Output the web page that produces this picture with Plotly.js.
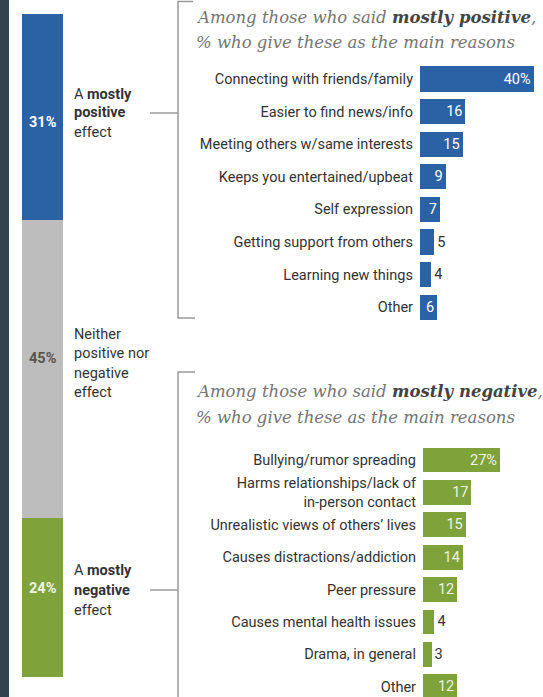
<!DOCTYPE html>
<html><head><meta charset="utf-8">
<script src="https://cdn.plot.ly/plotly-3.0.1.min.js"></script>
<style>html,body{margin:0;padding:0;background:#fff}#chart{width:543px;height:697px}</style>
</head><body><div id="chart"></div>
<script>
// ---- data ----
const overallLabels = ['A mostly positive effect', 'Neither positive nor negative effect', 'A mostly negative effect'];
const overallValues = [31, 45, 24];
const posReasons = ['Connecting with friends/family', 'Easier to find news/info', 'Meeting others w/same interests',
  'Keeps you entertained/upbeat', 'Self expression', 'Getting support from others', 'Learning new things', 'Other'];
const posValues = [40, 16, 15, 9, 7, 5, 4, 6];
const negReasons = ['Bullying/rumor spreading', 'Harms relationships/lack of<br>in-person contact',
  'Unrealistic views of others\u2019 lives', 'Causes distractions/addiction', 'Peer pressure',
  'Causes mental health issues', 'Drama, in general', 'Other'];
const negValues = [27, 17, 15, 14, 12, 4, 3, 12];

// ---- helpers ----
const W = 543, H = 697;
const px = x => x / W;
const py = y => 1 - y / H;
const SANS = 'Roboto, "Liberation Sans", Arial, sans-serif';
const SERIF = '"DejaVu Serif", Georgia, serif';
const BLUE = '#2b62a6', GRAY = '#bdbdbd', GREEN = '#7fa23a';
const segColors = [BLUE, GRAY, GREEN];

const traces = [];
overallValues.forEach((v, i) => {
  traces.push({type: 'bar', x: [0], y: [v], width: [1], name: overallLabels[i],
    marker: {color: segColors[i], line: {width: 0}}, xaxis: 'x', yaxis: 'y',
    hoverinfo: 'skip', showlegend: false});
});
function reasonTrace(cats, vals, color, insideColor, xa, ya, cut) {
  return {type: 'bar', orientation: 'h', y: cats, x: vals, xaxis: xa, yaxis: ya,
    marker: {color: color, line: {width: 0}},
    text: vals.map((v, i) => i === 0 ? v + '%' : String(v)),
    textposition: vals.map(v => v < cut ? 'outside' : 'inside'),
    insidetextanchor: 'end', textangle: 0, constraintext: 'none', cliponaxis: false,
    insidetextfont: {family: SANS, size: 14.5, color: insideColor},
    outsidetextfont: {family: SANS, size: 14.5, color: '#333'},
    hoverinfo: 'skip', showlegend: false};
}
traces.push(reasonTrace(posReasons, posValues, BLUE, '#ffffff', 'x2', 'y2', 6));
traces.push(reasonTrace(negReasons, negValues, GREEN, '#eef4e2', 'x3', 'y3', 6));

const tickFont = {family: SANS, size: 14.5, color: '#333'};
const catAxis = {type: 'category', showgrid: false, zeroline: false, showline: false, ticks: '',
  tickfont: tickFont, ticklabelstandoff: 6, fixedrange: true};

const lineStyle = {color: '#9a9a9a', width: 1.5};
const shapes = [
  {type: 'rect', xref: 'paper', yref: 'paper', x0: 0, x1: px(9), y0: 0, y1: 1, fillcolor: '#34444f', line: {width: 0}},
  {type: 'path', xref: 'paper', yref: 'paper', line: lineStyle,
    path: `M ${px(193)},${py(1.5)} L ${px(178)},${py(1.5)} L ${px(178)},${py(318)} L ${px(195)},${py(318)}`},
  {type: 'line', xref: 'paper', yref: 'paper', x0: px(150), x1: px(178), y0: py(113), y1: py(113), line: lineStyle},
  {type: 'path', xref: 'paper', yref: 'paper', line: lineStyle,
    path: `M ${px(195)},${py(372)} L ${px(178)},${py(372)} L ${px(178)},${py(700)}`},
  {type: 'line', xref: 'paper', yref: 'paper', x0: px(150), x1: px(178), y0: py(590), y1: py(590), line: lineStyle}
];

const ann = [];
function addText(text, x, y, size, color, anchor) {
  ann.push({xref: 'paper', yref: 'paper', x: px(x), y: py(y), xanchor: anchor || 'left', yanchor: 'middle',
    text: text, showarrow: false, font: {family: SANS, size: size, color: color}});
}
// side labels
[['A <b>mostly</b>', 94], ['<b>positive</b>', 113], ['effect', 132]].forEach(l => addText(l[0], 72, l[1], 14.5, '#333'));
[['Neither', 334], ['positive nor', 353], ['negative', 373], ['effect', 392]].forEach(l => addText(l[0], 72, l[1], 14.5, '#333'));
[['A <b>mostly</b>', 570], ['<b>negative</b>', 590], ['effect', 610]].forEach(l => addText(l[0], 72, l[1], 14.5, '#333'));
// segment percentages
addText('<b>' + overallValues[0] + '%</b>', 42.5, 122, 14.5, '#ffffff', 'center');
addText('<b>' + overallValues[1] + '%</b>', 42.5, 358, 14.5, '#555555', 'center');
addText('<b>' + overallValues[2] + '%</b>', 42.5, 588, 14.5, '#eef4e2', 'center');
// panel titles
function addTitle(text, y) {
  ann.push({xref: 'paper', yref: 'paper', x: px(194), y: py(y), xanchor: 'left', yanchor: 'middle',
    text: text, showarrow: false, font: {family: SERIF, size: 16.5, color: '#757575'}});
}
addTitle('<i>Among those who said <b><span style="color:#444444">mostly positive</span></b>,</i>', 17);
addTitle('<i>% who give these as the main reasons</i>', 42);
addTitle('<i>Among those who said <b><span style="color:#444444">mostly negative</span></b>,</i>', 391);
addTitle('<i>% who give these as the main reasons</i>', 417);

const layout = {
  width: W, height: H, margin: {l: 0, r: 0, t: 0, b: 0},
  paper_bgcolor: '#ffffff', plot_bgcolor: 'rgba(0,0,0,0)',
  barmode: 'stack', bargap: 0.23, showlegend: false,
  xaxis: {domain: [px(22), px(63)], range: [-0.5, 0.5], visible: false, fixedrange: true},
  yaxis: {domain: [py(677), py(14)], range: [100, 0], visible: false, fixedrange: true},
  xaxis2: {domain: [px(420), 1], range: [0, 123 / 2.84], visible: false, anchor: 'y2', fixedrange: true},
  yaxis2: Object.assign({}, catAxis, {domain: [py(323.5), py(62.7)], range: [7.5, -0.5], anchor: 'x2'}),
  xaxis3: {domain: [px(423), 1], range: [0, 120 / 2.85], visible: false, anchor: 'y3', fixedrange: true},
  yaxis3: Object.assign({}, catAxis, {domain: [0, py(443.8)], range: [7.315, -0.5], anchor: 'x3'}),
  shapes: shapes, annotations: ann
};
Plotly.newPlot('chart', traces, layout, {displayModeBar: false, staticPlot: true});
</script></body></html>
